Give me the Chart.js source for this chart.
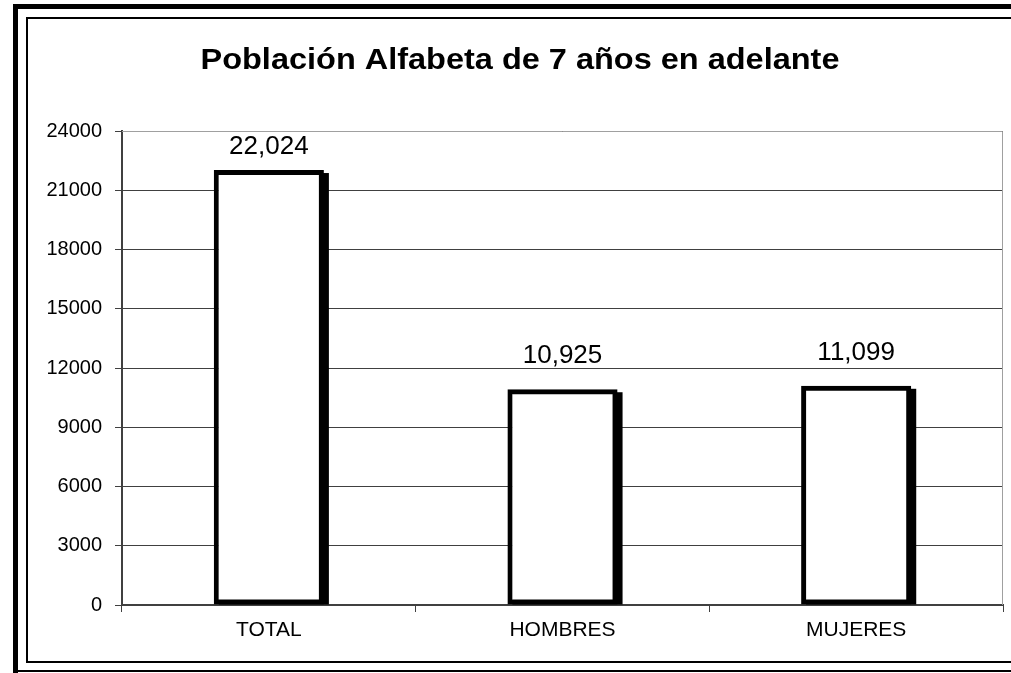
<!DOCTYPE html>
<html>
<head>
<meta charset="utf-8">
<script src="https://cdn.jsdelivr.net/npm/chart.js@4"></script>
<style>
  body { margin: 0; background: #fff; }
  #wrap { position: relative; width: 1011px; height: 673px; }
</style>
</head>
<body>
<div id="wrap"><canvas id="chart" width="1011" height="673"></canvas></div>
<script>
// values
const categories = ["TOTAL", "HOMBRES", "MUJERES"];
const values = [22024, 10925, 11099];
const valueLabels = ["22,024", "10,925", "11,099"];
const yTicks = [0, 3000, 6000, 9000, 12000, 15000, 18000, 21000, 24000];
const titleText = "Población Alfabeta de 7 años en adelante";

const FONT = "'Liberation Sans', Arial, sans-serif";

// frame around the whole chart (thick outer, thin inner) + title
const framePlugin = {
  id: "frame",
  beforeDraw(chart) {
    let ctx = chart.ctx;
    ctx.save();
    ctx.fillStyle = "#fff";
    ctx.fillRect(0, 0, chart.width, chart.height);
    ctx.fillStyle = "#000";
    // outer
    ctx.fillRect(13, 4, chart.width - 13, 5);
    ctx.fillRect(13, 4, 5, chart.height - 4);
    ctx.fillRect(13, 670, chart.width - 13, 2);
    // inner
    ctx.fillRect(26, 17, chart.width - 26, 2);
    ctx.fillRect(26, 17, 2, 646);
    ctx.fillRect(26, 661, chart.width - 26, 2);
    // title, slightly stretched like the original picture
    ctx.font = "bold 29px " + FONT;
    ctx.textAlign = "center";
    ctx.textBaseline = "alphabetic";
    ctx.translate(520, 69);
    ctx.scale(1.12, 1);
    ctx.fillText(titleText, 0, 0);
    ctx.restore();
  },
};

// shadow behind each bar, plot border, value labels
const barExtras = {
  id: "barExtras",
  beforeDatasetsDraw(chart) {
    let ctx = chart.ctx;
    let area = chart.chartArea;
    ctx.save();
    // plot area border top/right
    ctx.strokeStyle = "#a0a0a0";
    ctx.lineWidth = 1;
    ctx.beginPath();
    ctx.moveTo(area.left, area.top + 0.5);
    ctx.lineTo(area.right - 0.5, area.top + 0.5);
    ctx.lineTo(area.right - 0.5, area.bottom);
    ctx.stroke();
    // shadows
    ctx.fillStyle = "#000";
    let meta = chart.getDatasetMeta(0);
    meta.data.forEach((bar) => {
      let half = bar.width / 2;
      ctx.fillRect(bar.x - half + 5, bar.y + 3, bar.width, bar.base - bar.y - 3);
    });
    ctx.restore();
  },
  afterDatasetsDraw(chart) {
    let ctx = chart.ctx;
    let area = chart.chartArea;
    ctx.save();
    ctx.fillStyle = "#000";
    ctx.font = "26px " + FONT;
    ctx.textAlign = "center";
    ctx.textBaseline = "alphabetic";
    let meta = chart.getDatasetMeta(0);
    meta.data.forEach((bar, i) => {
      // keep the label inside the plot area, as the original does
      let y = Math.max(bar.y - 26, area.top + 23);
      ctx.fillText(valueLabels[i], bar.x, y);
    });
    ctx.restore();
  },
};

new Chart(document.getElementById("chart"), {
  type: "bar",
  data: {
    labels: categories,
    datasets: [
      {
        data: values,
        backgroundColor: "#fff",
        borderColor: "#000",
        borderWidth: 5,
        borderSkipped: false,
        barPercentage: 0.375,
        categoryPercentage: 1,
      },
    ],
  },
  options: {
    responsive: false,
    animation: false,
    layout: {
      padding: { left: 0, right: 8, top: 0, bottom: 0 },
    },
    plugins: {
      legend: { display: false },
      tooltip: { enabled: false },
      // only reserves the space; the title is drawn by framePlugin
      title: {
        display: true,
        text: " ",
        color: "rgba(0,0,0,0)",
        font: { family: FONT, size: 25, weight: "bold" },
        padding: { top: 44, bottom: 57 },
      },
    },
    scales: {
      x: {
        offset: true,
        grid: {
          offset: true,
          drawOnChartArea: false,
          drawTicks: true,
          tickLength: 7,
          color: "#404040",
        },
        border: { color: "#404040", width: 2 },
        ticks: {
          color: "#000",
          padding: 6,
          font: { family: FONT, size: 21 },
        },
        afterFit(scale) {
          scale.height = 68;
        },
      },
      y: {
        min: 0,
        max: 24000,
        afterBuildTicks(scale) {
          scale.ticks = yTicks.map((v) => ({ value: v }));
        },
        grid: {
          color: "#404040",
          lineWidth: 1,
          tickLength: 7,
        },
        border: { color: "#404040", width: 2 },
        ticks: {
          color: "#000",
          padding: 13,
          font: { family: FONT, size: 20 },
          callback: (v) => String(v),
        },
        afterFit(scale) {
          scale.width = 122;
        },
      },
    },
  },
  plugins: [framePlugin, barExtras],
});
</script>
</body>
</html>
